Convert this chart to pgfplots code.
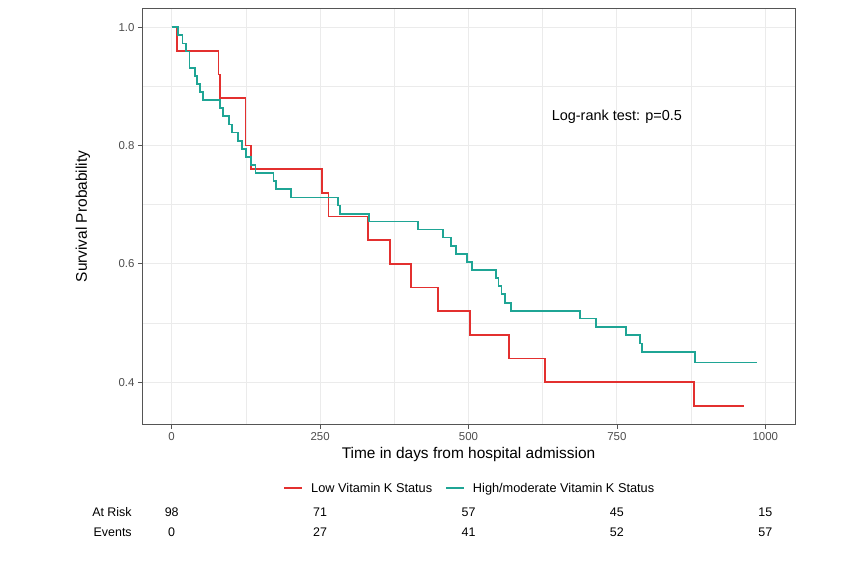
\documentclass[border=0pt]{standalone}
\usepackage{fontspec}
\setmainfont{Liberation Sans}
\usepackage{pgfplots}
\pgfplotsset{compat=1.18}
\definecolor{lowk}{HTML}{E3302F}
\definecolor{highk}{HTML}{1FA595}
\definecolor{gridc}{HTML}{EBEBEB}
\definecolor{framec}{HTML}{555555}
\definecolor{tickc}{HTML}{4D4D4D}

\begin{document}
\begin{tikzpicture}
\begin{axis}[
  scale only axis,
  width=653bp, height=416.5bp,
  xmin=-50, xmax=1050, ymin=0.328, ymax=1.032,
  xtick={0,250,...,1000},
  ytick={0.4,0.6,0.8,1.0},
  minor xtick={125,375,625,875},
  minor ytick={0.5,0.7,0.9},
  grid=both,
  major grid style={gridc, line width=0.9bp},
  minor grid style={gridc, line width=0.5bp},
  minor tick length=0pt,
  major tick length=4bp,
  tick align=outside,
  xtick pos=lower, ytick pos=left,
  tick style={framec, line width=0.8bp},
  axis line style={framec, line width=0.8bp},
  /pgf/number format/assume math mode=true,
  ticklabel style={font=\fontsize{11.5}{13}\selectfont, text=tickc},
  yticklabel style={/pgf/number format/.cd, fixed, fixed zerofill, precision=1},
  xticklabel style={/pgf/number format/set thousands separator={}},
  xlabel={Time in days from hospital admission},
  ylabel={Survival Probability},
  label style={font=\fontsize{15.5}{18}\selectfont},
  xlabel style={at={(axis description cs:0.5,-0.0711)}, anchor=center},
  ylabel style={at={(axis description cs:-0.0904,0.5)}, anchor=center},
  clip=false,
  legend columns=2,
  legend style={at={(axis description cs:0.502,-0.1527)}, anchor=center,
    draw=none, fill=none, font=\fontsize{12.8}{15}\selectfont,
    /tikz/every even column/.append style={column sep=11bp}},
  legend image code/.code={\draw[#1, line width=1.8bp] (0bp,0bp) -- (18bp,0bp); \path (24bp,0bp);},
]

% Low vitamin K status (Kaplan-Meier step curve)
\addplot[const plot, lowk, line width=1.8bp] table {
x y
0 1.00
8.8 0.96
78.8 0.92
81.6 0.88
124.2 0.80
133.8 0.76
252.9 0.72
264.0 0.68
331.3 0.64
367.8 0.60
402.7 0.56
449.2 0.52
502.5 0.48
568.2 0.44
628.8 0.40
880.1 0.36
964.3 0.36
};
\addlegendentry{Low Vitamin K Status}

% High/moderate vitamin K status
\addplot[const plot, highk, line width=1.8bp] table {
x y
0 1.0
10.4 0.9863
18.2 0.9726
24.4 0.9589
30.0 0.9315
39.6 0.9178
42.4 0.9041
48.0 0.8904
52.5 0.8767
81.6 0.8630
86.2 0.8493
96.8 0.8356
101.9 0.8219
111.4 0.8082
118.2 0.7945
125.4 0.7808
133.8 0.7671
141.1 0.7534
171.4 0.7397
175.4 0.7260
201.2 0.7123
279.8 0.6986
283.7 0.6849
333.0 0.6716
414.5 0.6580
457.6 0.6446
470.5 0.6306
479.0 0.6170
498.0 0.6030
506.4 0.5893
546.3 0.5760
550.5 0.5623
555.6 0.5485
561.4 0.5345
571.0 0.5205
687.7 0.5076
714.6 0.4935
765.2 0.4795
788.7 0.4654
792.6 0.4513
881.3 0.4333
986.2 0.4333
};
\addlegendentry{High/moderate Vitamin K Status}

% number at risk and cumulative events
\addplot[draw=none, forget plot, nodes near coords, point meta=explicit symbolic,
  every node near coord/.append style={anchor=center, text=black,
    font=\fontsize{12.5}{15}\selectfont}] table[meta=n] {
x y n
0 0.1808 98
250 0.1808 71
500 0.1808 57
750 0.1808 45
1000 0.1808 15
0 0.1470 0
250 0.1470 27
500 0.1470 41
750 0.1470 52
1000 0.1470 57
};

\node[anchor=east, font=\fontsize{12.5}{15}\selectfont] at (axis cs:-61.4,0.1808) {At Risk};
\node[anchor=east, font=\fontsize{12.5}{15}\selectfont] at (axis cs:-61.4,0.1470) {Events};
\node[font=\fontsize{14.5}{17}\selectfont] at (axis cs:750,0.848) {Log-rank test: p=0.5};

\coordinate (bbsw) at (rel axis cs:0,0);
\coordinate (bbne) at (rel axis cs:1,1);
\end{axis}
\pgfresetboundingbox
\path[use as bounding box] ([xshift=-142bp,yshift=-143.3bp]bbsw) rectangle ([xshift=47bp,yshift=8.3bp]bbne);
\end{tikzpicture}
\end{document}
